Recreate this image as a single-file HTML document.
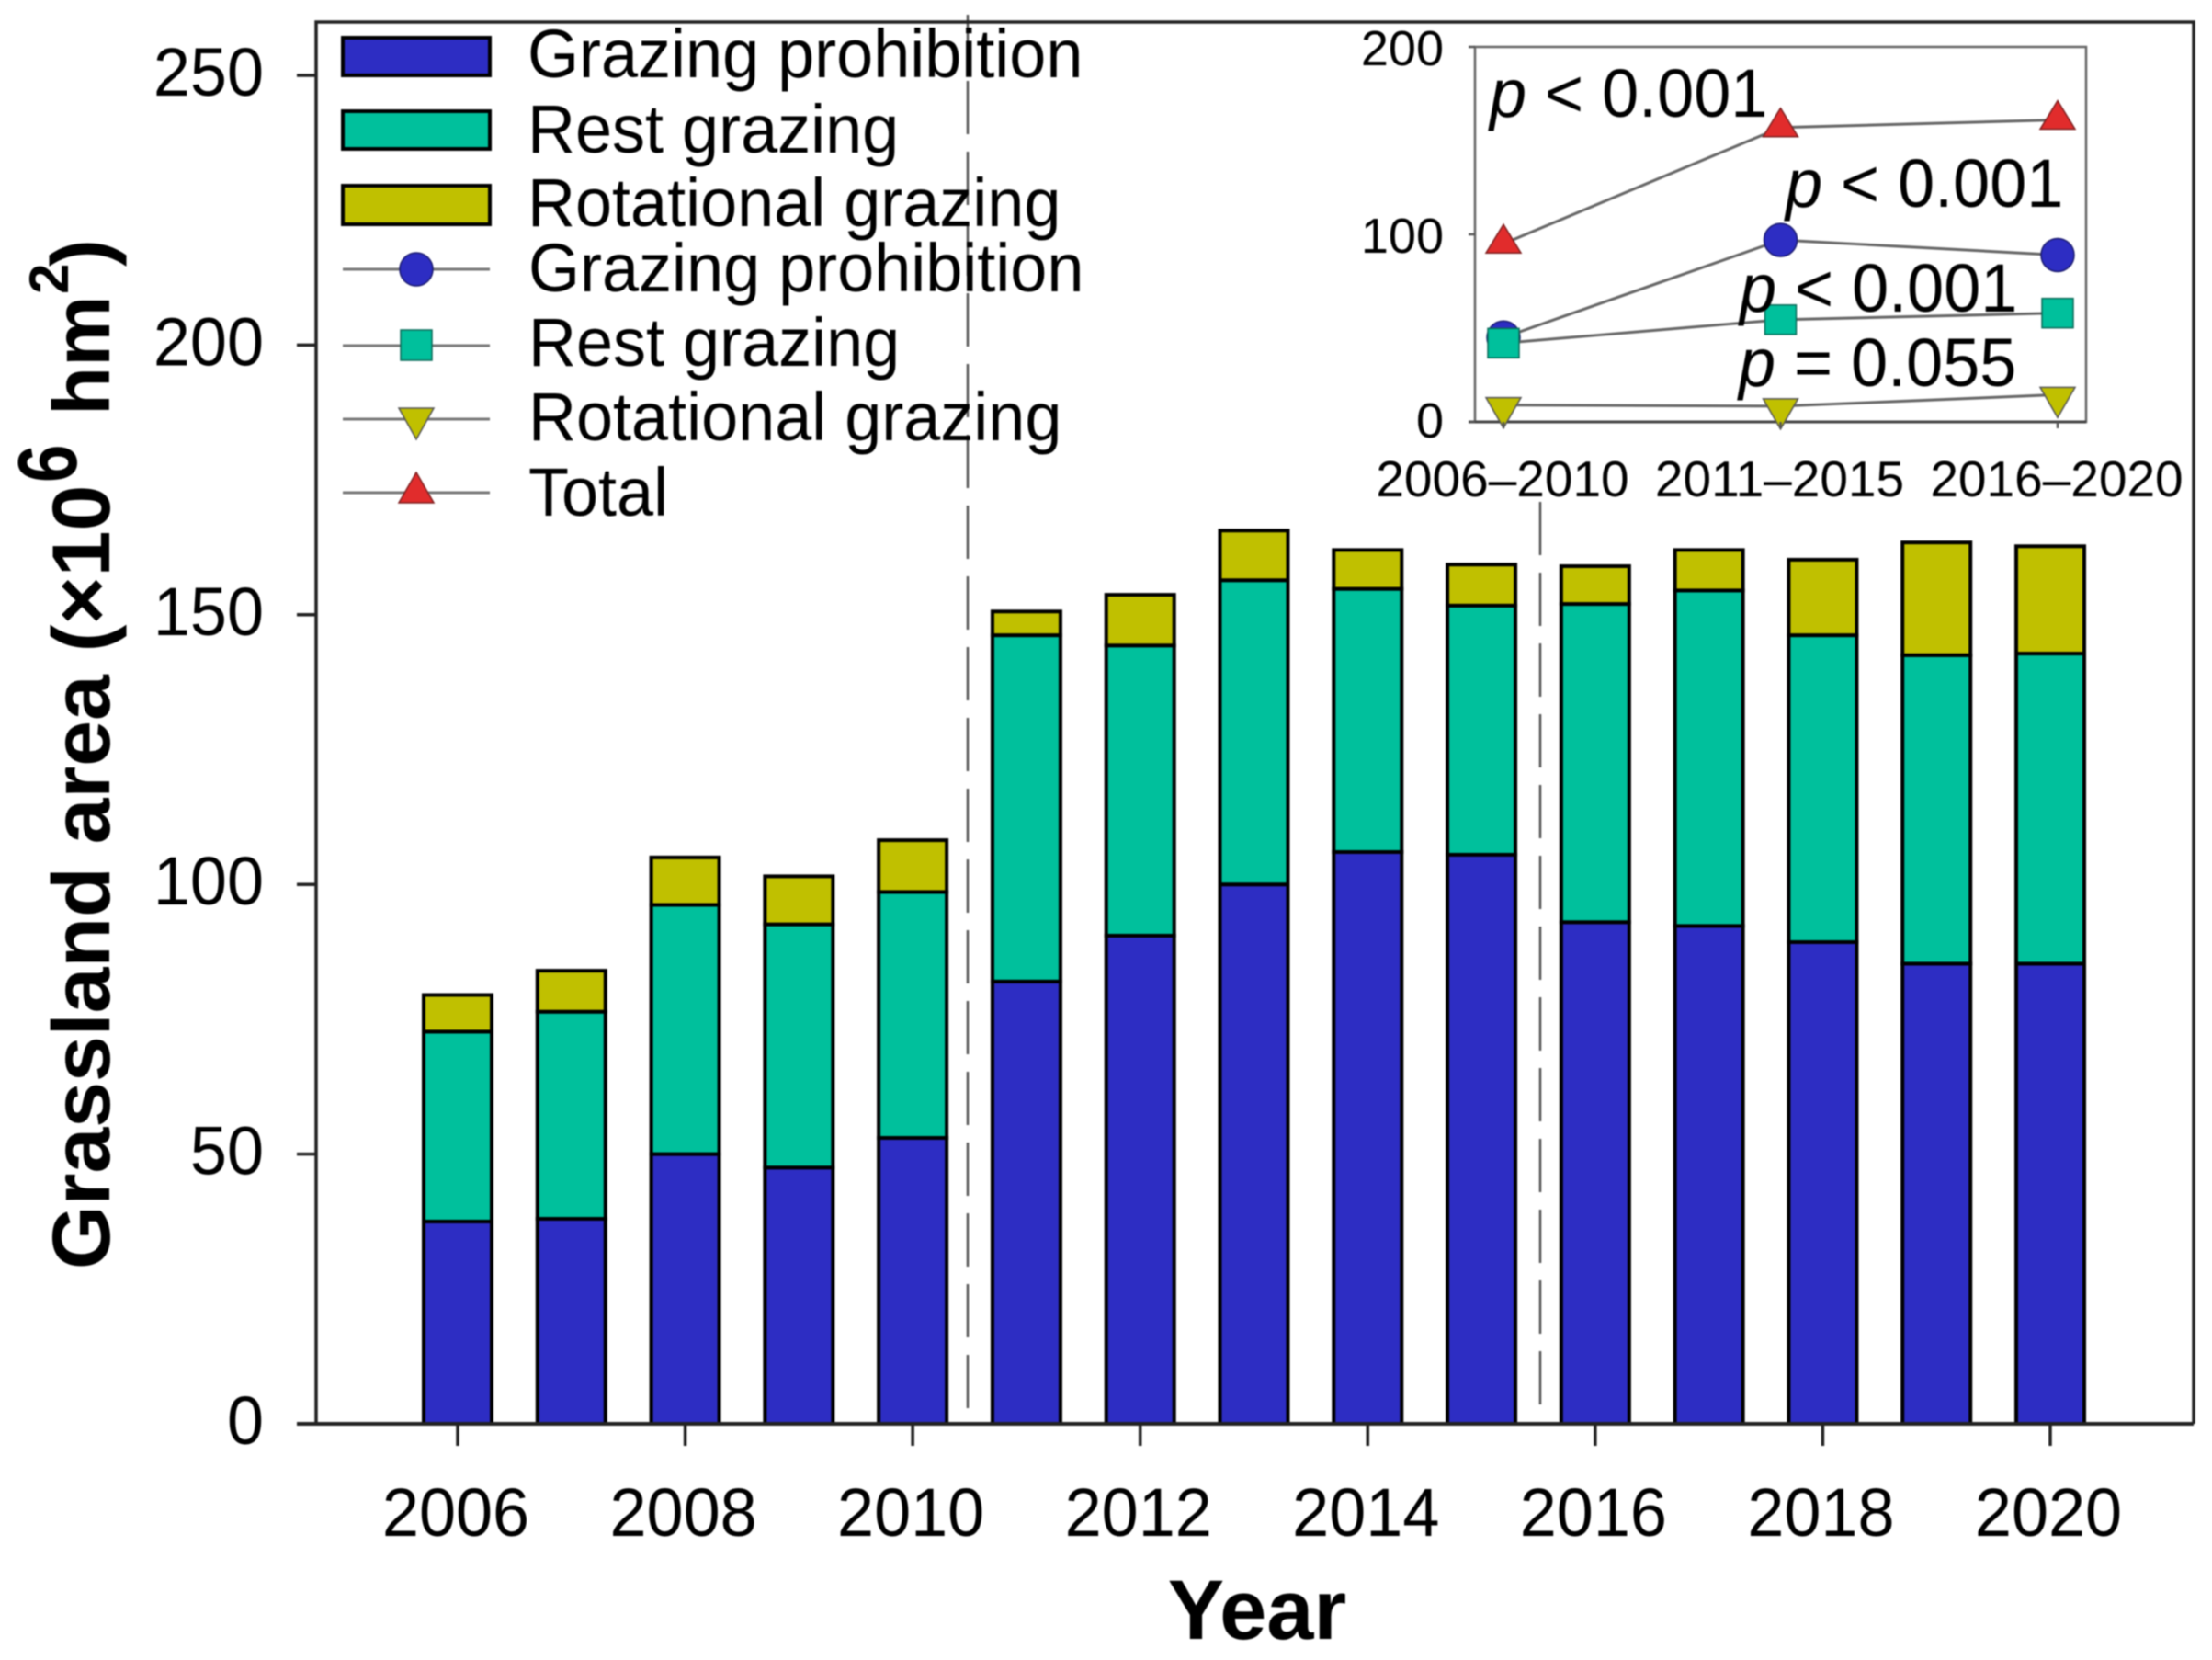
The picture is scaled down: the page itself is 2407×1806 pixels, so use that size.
<!DOCTYPE html>
<html lang="en">
<head>
<meta charset="utf-8">
<title>Grassland area by grazing type</title>
<style>
html,body{margin:0;padding:0;background:#fff;}
svg{display:block;font-family:"Liberation Sans",sans-serif;filter:blur(0.7px);}
text{fill:#000;}
</style>
</head>
<body>
<svg id="chart" xmlns="http://www.w3.org/2000/svg" width="2407" height="1806" viewBox="0 0 2407 1806">
  <rect x="0" y="0" width="2407" height="1806" fill="#fff"/>
  <g id="bars"></g>
  <line x1="1053" y1="16" x2="1053" y2="1549" stroke="#555" stroke-width="2.5" stroke-dasharray="58 19" stroke-dashoffset="5"/>
  <line x1="1676" y1="546" x2="1676" y2="1549" stroke="#555" stroke-width="2.5" stroke-dasharray="58 19" stroke-dashoffset="0"/>
  <g id="axes">
    <path d="M344 1549V24H2387V1549" fill="none" stroke="#222" stroke-width="3.5"/>
    <line x1="323" y1="1549" x2="2387" y2="1549" stroke="#222" stroke-width="4"/>
  </g>
  <text x="1368" y="1783" text-anchor="middle" font-size="92" font-weight="bold">Year</text>
  <g font-weight="bold">
    <text transform="translate(119,1381) rotate(-90)" font-size="89.5">Grassland area (×10</text>
    <text transform="translate(83,525) rotate(-90) scale(0.82,1)" font-size="91">6</text>
    <text transform="translate(119,452) rotate(-90)" font-size="87">hm</text>
    <text transform="translate(74,320) rotate(-90)" font-size="60">2</text>
    <text transform="translate(119,290) rotate(-90)" font-size="90">)</text>
  </g>

  <g id="legend">
    <g>
      <rect x="373" y="41" width="160" height="41" fill="#2d2dc3" stroke="#000" stroke-width="4"/>
      <text class="fit" x="574" y="84" font-size="74">Grazing prohibition</text>
    </g>
    <g>
      <rect x="373" y="121" width="160" height="41" fill="#00c09c" stroke="#000" stroke-width="4"/>
      <text class="fit" x="574" y="166" font-size="74">Rest grazing</text>
    </g>
    <g>
      <rect x="373" y="202" width="160" height="42" fill="#c0c000" stroke="#000" stroke-width="4"/>
      <text class="fit" x="574" y="246" font-size="74">Rotational grazing</text>
    </g>
    <g>
      <line x1="373" y1="293" x2="533" y2="293" stroke="#777" stroke-width="3"/>
      <circle cx="453" cy="293" r="18" fill="#2d2dc3" stroke="#1a1a70" stroke-width="1.5"/>
      <text class="fit" x="575" y="317" font-size="74">Grazing prohibition</text>
    </g>
    <g>
      <line x1="373" y1="376" x2="533" y2="376" stroke="#777" stroke-width="3"/>
      <rect x="436" y="359" width="34" height="33" fill="#00c09c" stroke="#0a6a58" stroke-width="1.5"/>
      <text class="fit" x="575" y="398" font-size="74">Rest grazing</text>
    </g>
    <g>
      <line x1="373" y1="456" x2="533" y2="456" stroke="#777" stroke-width="3"/>
      <polygon points="434,444 472,444 453,478" fill="#c0c000" stroke="#555" stroke-width="1.5"/>
      <text class="fit" x="575" y="479" font-size="74">Rotational grazing</text>
    </g>
    <g>
      <line x1="373" y1="536" x2="533" y2="536" stroke="#777" stroke-width="3"/>
      <polygon points="434,547 472,547 453,514" fill="#e12c2c" stroke="#802020" stroke-width="1.5"/>
      <text class="fit" x="575" y="561" font-size="74">Total</text>
    </g>
  </g>

  <g id="inset">
    <rect x="1605" y="51" width="665" height="408" fill="none" stroke="#666" stroke-width="2.5"/>
    <line x1="1598" y1="459" x2="2270" y2="459" stroke="#444" stroke-width="3"/>
    <g id="inset-lines"></g>
    <text class="fit" x="1621" y="127" font-size="74"><tspan font-style="italic">p</tspan> &lt; 0.001</text>
    <text class="fit" x="1943" y="225" font-size="74"><tspan font-style="italic">p</tspan> &lt; 0.001</text>
    <text class="fit" x="1893" y="339" font-size="74"><tspan font-style="italic">p</tspan> &lt; 0.001</text>
    <text class="fit" x="1892" y="420" font-size="74"><tspan font-style="italic">p</tspan> = 0.055</text>
  </g>
</svg>
<script>
// Main chart data (x10^6 hm2)
const years = [2006,2007,2008,2009,2010,2011,2012,2013,2014,2015,2016,2017,2018,2019,2020];
const prohibitionArea = [37.5,38,50,47.5,53,82,90.5,100,106,105.5,93,92.3,89.3,85.3,85.3];
const restArea = [35.2,38.4,46.2,45.1,45.6,64.2,53.8,56.4,48.8,46.2,59,62.2,56.9,57.2,57.5];
const rotationalArea = [6.8,7.6,8.8,8.9,9.6,4.4,9.4,9.2,7.2,7.6,7,7.5,14,20.9,19.9];
const yTickValues = [0,50,100,150,200,250];
const xTickYears = [2006,2008,2010,2012,2014,2016,2018,2020];
// Inset chart data
const periods = ['2006–2010','2011–2015','2016–2020'];
const insetTotal = [95,157,161];
const insetProhibition = [45,97,89];
const insetRest = [42,54.5,58];
const insetRotational = [9,8.4,14.5];
const insetYTicks = [0,100,200];

const NS = 'http://www.w3.org/2000/svg';
function make(tag, attrs, parent) {
  const el = document.createElementNS(NS, tag);
  for (const k in attrs) el.setAttribute(k, attrs[k]);
  parent.appendChild(el);
  return el;
}
const xScale = y => 498 + (y - 2006) * (2231 - 498) / 14;
const yScale = v => 1549 - v * (1549 - 82) / 250;
const ixScale = i => 1636 + i * 301.5;
const iyScale = v => 459 - v * (459 - 51) / 200;
const barWidth = 74;

const barsGroup = document.getElementById('bars');
years.forEach((yr, i) => {
  const stack = [
    {v: prohibitionArea[i], fill: '#2d2dc3', key: 'prohibition'},
    {v: restArea[i], fill: '#00c09c', key: 'rest'},
    {v: rotationalArea[i], fill: '#c0c000', key: 'rotational'}
  ];
  let base = 0;
  stack.forEach(s => {
    const top = yScale(base + s.v);
    const bottom = yScale(base);
    const bar = make('rect', {x: xScale(yr) - barWidth / 2, y: top, width: barWidth, height: bottom - top, fill: s.fill, stroke: '#000', 'stroke-width': 4}, barsGroup);
    
    
    base += s.v;
  });
});

const axes = document.getElementById('axes');
yTickValues.forEach(v => {
  const tick = make('line', {x1: 323, x2: 344, y1: yScale(v), y2: yScale(v), stroke: '#222', 'stroke-width': 3.5}, axes);
  
  
  const label = make('text', {x: 287, y: yScale(v) + 22, 'text-anchor': 'end', 'font-size': 74, class: 'fit'}, axes);
  label.textContent = v;
  
  
});
xTickYears.forEach(yr => {
  const tick = make('line', {x1: xScale(yr), x2: xScale(yr), y1: 1549, y2: 1573, stroke: '#222', 'stroke-width': 3.5}, axes);
  
  
  const label = make('text', {x: xScale(yr) - 2, y: 1671, 'text-anchor': 'middle', 'font-size': 74, class: 'fit'}, axes);
  label.textContent = yr;
  
  
});

const inset = document.getElementById('inset');
const insetSeries = document.getElementById('inset-lines');
insetYTicks.forEach(v => {
  const tick = make('line', {x1: 1598, x2: 1605, y1: iyScale(v), y2: iyScale(v), stroke: '#555', 'stroke-width': 2.5}, inset);
  
  
  const label = make('text', {x: 1571, y: iyScale(v) + (v === 0 ? 17 : 20), 'text-anchor': 'end', 'font-size': 54}, inset);
  label.textContent = v;
  
  
});
periods.forEach((p, i) => {
  const tick = make('line', {x1: ixScale(i), x2: ixScale(i), y1: 459, y2: 466, stroke: '#555', 'stroke-width': 2.5}, inset);
  
  
  const label = make('text', {x: ixScale(i) - 1, y: 540, 'text-anchor': 'middle', 'font-size': 55}, inset);
  label.textContent = p;
  
  
});

function drawSeries(values, key, fill, edge, marker) {
  const pts = values.map((v, i) => ixScale(i) + ',' + iyScale(v)).join(' ');
  const line = make('polyline', {points: pts, fill: 'none', stroke: '#666', 'stroke-width': 3}, insetSeries);
  
  
  values.forEach((v, i) => {
    const cx = ixScale(i), cy = iyScale(v);
    let m;
    if (marker === 'circle') m = make('circle', {cx: cx, cy: cy, r: 18}, insetSeries);
    if (marker === 'square') m = make('rect', {x: cx - 17, y: cy - 16, width: 34, height: 32}, insetSeries);
    if (marker === 'up') m = make('polygon', {points: [cx - 19, cy + 10, cx + 19, cy + 10, cx, cy - 21].join(' ')}, insetSeries);
    if (marker === 'down') m = make('polygon', {points: [cx - 19, cy - 8, cx + 19, cy - 8, cx, cy + 25].join(' ')}, insetSeries);
    m.setAttribute('fill', fill);
    m.setAttribute('stroke', edge);
    m.setAttribute('stroke-width', 1.5);
    
    
  });
}
drawSeries(insetTotal, 'total', '#e12c2c', '#802020', 'up');
drawSeries(insetProhibition, 'grazing-prohibition', '#2d2dc3', '#1a1a70', 'circle');
drawSeries(insetRest, 'rest-grazing', '#00c09c', '#0a6a58', 'square');
drawSeries(insetRotational, 'rotational-grazing', '#c0c000', '#555', 'down');

// Slightly condense the taller labels to match the horizontally narrower reference type.
document.querySelectorAll('text.fit').forEach(t => {
  const w = t.getComputedTextLength();
  t.setAttribute('textLength', (w * 0.973).toFixed(1));
  t.setAttribute('lengthAdjust', 'spacingAndGlyphs');
});
</script>
</body>
</html>
